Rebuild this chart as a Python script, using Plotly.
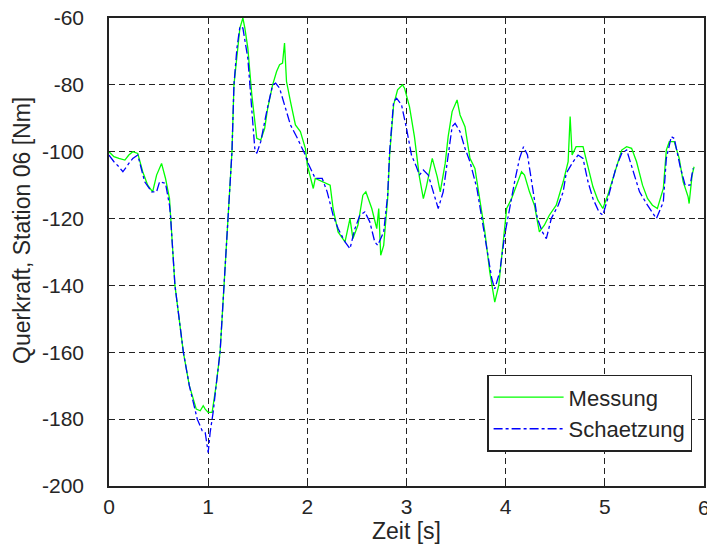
import plotly.graph_objects as go

# Messung (measured) – time [s] and shear force [Nm]
t_mess = [0, 0.05, 0.1, 0.16, 0.2, 0.24, 0.29, 0.34, 0.39, 0.44, 0.48, 0.53, 0.57, 0.61,
          0.665, 0.75, 0.81, 0.84, 0.88, 0.92, 0.95, 0.97, 1.0, 1.04, 1.08, 1.12, 1.16, 1.2,
          1.22, 1.24, 1.26, 1.29, 1.32, 1.35, 1.37, 1.40, 1.44, 1.49, 1.53, 1.57, 1.60, 1.65,
          1.69, 1.72, 1.75, 1.77, 1.79, 1.83, 1.88, 1.93, 1.98, 2.0, 2.06, 2.08, 2.15, 2.23,
          2.26, 2.31, 2.38, 2.43, 2.46, 2.51, 2.56, 2.59, 2.65, 2.70, 2.72, 2.74, 2.77, 2.81,
          2.83, 2.87, 2.91, 2.96, 2.98, 3.03, 3.08, 3.13, 3.17, 3.2, 3.26, 3.31, 3.34, 3.39,
          3.42, 3.46, 3.51, 3.54, 3.59, 3.64, 3.69, 3.74, 3.79, 3.84, 3.87, 3.89, 3.93, 3.97,
          4.01, 4.06, 4.11, 4.16, 4.19, 4.24, 4.29, 4.34, 4.39, 4.44, 4.51, 4.58, 4.63, 4.65,
          4.67, 4.71, 4.78, 4.82, 4.88, 4.93, 4.98, 5.03, 5.1, 5.17, 5.22, 5.27, 5.32, 5.38,
          5.43, 5.48, 5.53, 5.59, 5.62, 5.65, 5.7, 5.75, 5.79, 5.84, 5.85, 5.88, 5.9]
y_mess = [-100, -101.5, -102, -102.5, -101, -100, -100.5, -106, -110, -112, -107, -103.5, -108, -114,
          -140, -160, -170, -173, -177, -177.5, -176, -177, -178, -178, -170, -160, -140, -120,
          -108, -100, -80, -71, -63, -60, -63, -69, -83, -96, -96.5, -93, -87, -80,
          -76, -74, -73.5, -67.5, -79, -85, -92, -94, -99, -104, -111, -108, -109, -110,
          -117, -124, -127, -120, -126, -122, -113, -112, -117, -123, -117, -131, -128, -114,
          -101, -86, -81.5, -80, -81, -86.5, -95.5, -107.5, -114, -110.5, -102, -107.5, -112, -103.5,
          -95.5, -88, -84.5, -89, -92.5, -102, -105, -114, -124, -136, -142, -145, -140, -128,
          -117, -114, -110, -106, -107, -112, -116, -124, -122, -119, -116, -109, -103, -89.5,
          -101, -98.5, -98.5, -103, -110.5, -114.5, -117, -113, -106, -99.5, -98.5, -99, -103, -110,
          -114, -116, -117, -111, -99.5, -97, -97, -102, -109, -113.5, -115.5, -107, -104.5]

# Schaetzung (estimate)
t_schaetz = [0, 0.05, 0.1, 0.14, 0.2, 0.24, 0.29, 0.36, 0.43, 0.48, 0.51, 0.57, 0.61, 0.62,
             0.665, 0.75, 0.81, 0.84, 0.89, 0.94, 0.97, 0.99, 1.0, 1.02, 1.05, 1.08, 1.12, 1.16,
             1.2, 1.22, 1.24, 1.26, 1.29, 1.32, 1.35, 1.40, 1.44, 1.47, 1.49, 1.53, 1.59, 1.65,
             1.68, 1.72, 1.77, 1.83, 1.90, 1.98, 2.0, 2.08, 2.15, 2.2, 2.26, 2.31, 2.38, 2.43,
             2.48, 2.53, 2.58, 2.63, 2.68, 2.71, 2.77, 2.81, 2.83, 2.87, 2.9, 2.95, 3.0, 3.05,
             3.1, 3.13, 3.17, 3.22, 3.27, 3.32, 3.37, 3.4, 3.46, 3.49, 3.54, 3.59, 3.64, 3.71,
             3.76, 3.81, 3.86, 3.89, 3.94, 3.99, 4.04, 4.09, 4.14, 4.18, 4.22, 4.27, 4.32, 4.37,
             4.41, 4.46, 4.53, 4.58, 4.61, 4.68, 4.73, 4.78, 4.83, 4.88, 4.94, 4.98, 5.04, 5.11,
             5.17, 5.22, 5.29, 5.35, 5.43, 5.52, 5.59, 5.62, 5.67, 5.7, 5.76, 5.81, 5.86, 5.89]
y_schaetz = [-101, -103, -104.5, -106, -103.5, -102, -101, -109, -112, -112, -109, -109.5, -116, -119,
             -140, -160, -170, -174, -180, -183.5, -184, -188, -190, -184, -178, -170, -160, -140,
             -120, -108, -100, -80, -69, -62.6, -63, -72, -88, -99, -100.5, -97, -88, -80,
             -79.5, -81, -86, -92, -96, -101, -103, -108, -108, -112, -119, -123, -127, -129,
             -123, -119, -118, -121, -127, -128, -124, -113, -100, -85, -84, -86, -93, -101,
             -104.5, -107, -105.5, -107, -112, -117, -112, -105.5, -92.5, -91.5, -94, -99, -103, -111,
             -120, -129, -138, -141, -136, -125, -116.5, -109, -102, -98.5, -101, -111, -120, -124,
             -126, -120, -116, -112, -106.5, -103, -101, -102, -109, -114, -118, -119, -113, -105,
             -100.5, -99.5, -106, -112, -116, -120, -115, -102, -95.5, -96, -104.5, -110, -110, -105]

x_ticks = [0, 1, 2, 3, 4, 5, 6]
y_ticks = [-200, -180, -160, -140, -120, -100, -80, -60]

FONT = "Liberation Sans, Arial, sans-serif"
TXT = "#262626"

fig = go.Figure()
fig.add_trace(go.Scatter(x=t_mess, y=y_mess, mode="lines", name="Messung",
                         line=dict(color="#00ff00", width=1.3)))
fig.add_trace(go.Scatter(x=t_schaetz, y=y_schaetz, mode="lines", name="Schaetzung",
                         line=dict(color="#0000ff", width=1.3, dash="dashdot")))

axis_common = dict(showline=True, linecolor="#222", linewidth=1.5, mirror="ticks",
                   ticks="inside", ticklen=6, tickcolor="#222", automargin=False,
                   showgrid=True, gridcolor="#222", gridwidth=1.2, griddash="6px,4px",
                   zeroline=False, tickfont=dict(family=FONT, size=21, color=TXT))

# last x tick label ("6") sits on the right border and is drawn as an annotation
fig.update_xaxes(range=[0, 6], tickvals=x_ticks,
                 ticktext=[str(v) if v != x_ticks[-1] else "" for v in x_ticks],
                 ticklabelstandoff=1,
                 title=dict(text="Zeit [s]", font=dict(family=FONT, size=23, color=TXT), standoff=2),
                 **axis_common)
fig.update_yaxes(range=[-200, -60], tickvals=y_ticks, ticktext=[str(v) for v in y_ticks],
                 ticklabelstandoff=19,
                 **axis_common)

fig.add_annotation(x=x_ticks[-1], xref="x", y=0, yref="paper", yanchor="top", yshift=-8,
                   text=str(x_ticks[-1]), showarrow=False,
                   font=dict(family=FONT, size=21, color=TXT))
fig.add_annotation(x=0, xref="paper", xshift=-87, xanchor="center",
                   y=0.545, yref="paper", yanchor="middle",
                   text="Querkraft, Station 06 [Nm]", textangle=-90, showarrow=False,
                   font=dict(family=FONT, size=23, color=TXT))

fig.update_layout(
    width=707, height=555,
    margin=dict(l=109, r=3, t=18, b=69),
    paper_bgcolor="white", plot_bgcolor="white",
    showlegend=True,
    legend=dict(x=0.98, y=0.073, xanchor="right", yanchor="bottom",
                bgcolor="white", bordercolor="#222", borderwidth=1.5,
                font=dict(family=FONT, size=22, color=TXT), itemwidth=70,
                tracegroupgap=0),
)

fig.write_html("out.html")
